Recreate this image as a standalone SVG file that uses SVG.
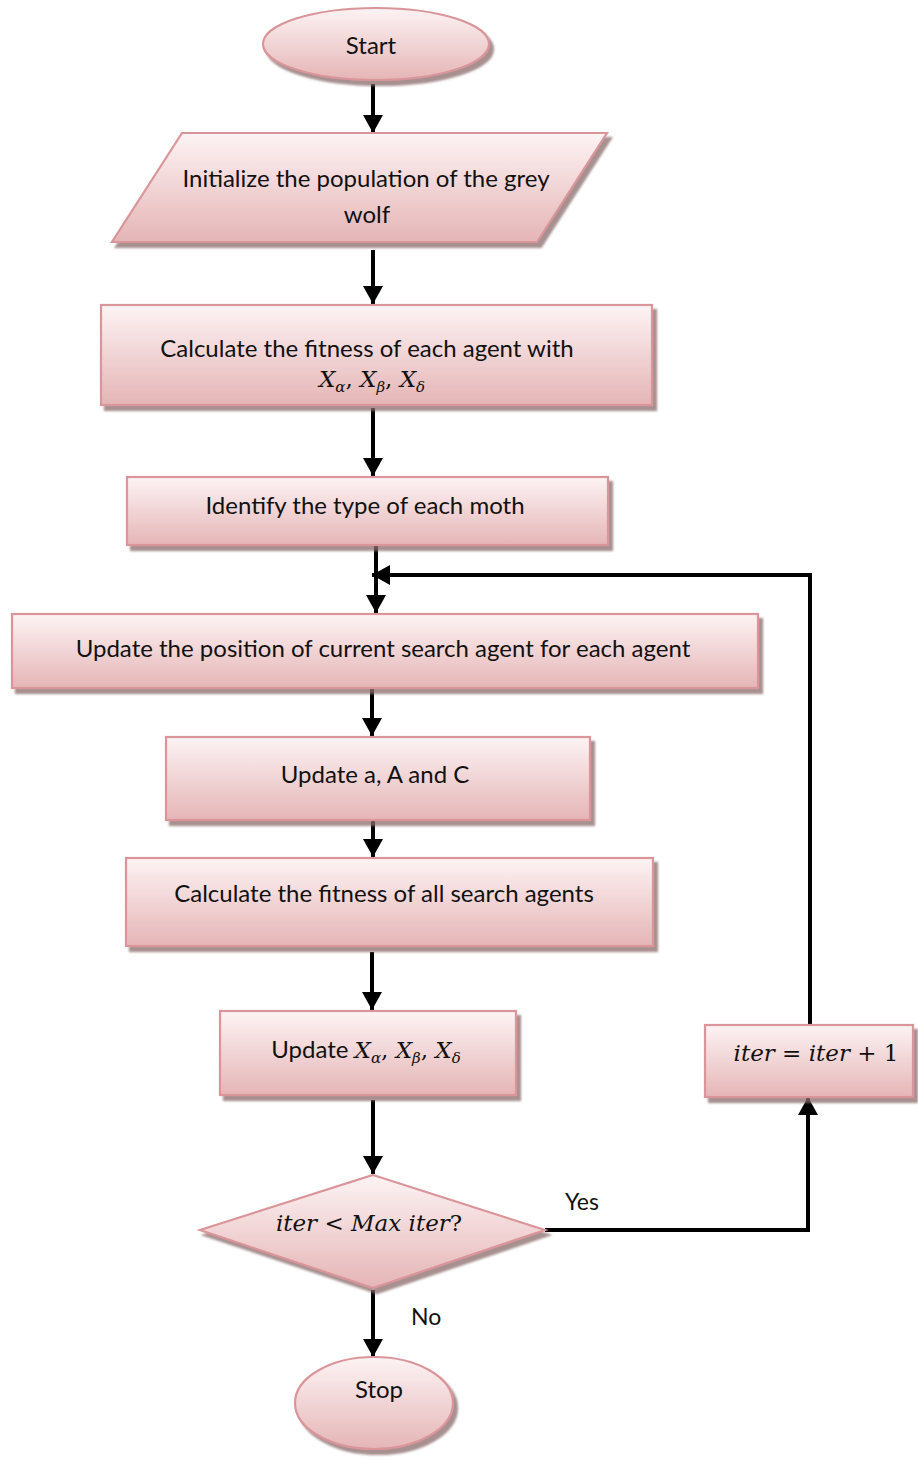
<svg xmlns="http://www.w3.org/2000/svg" width="918" height="1460" viewBox="0 0 918 1460">
<style>
.node{fill:url(#pk);stroke:#d9959a;stroke-width:2.2;filter:url(#sh)}
.t{font-family:Lato,"Open Sans",sans-serif;font-size:24px;fill:#111;text-anchor:middle}
.m{font-family:"DejaVu Serif","Liberation Serif",serif;font-size:23px;fill:#111}
.i{font-style:italic}
.s{font-size:15px;font-style:italic}
.c{fill:none;stroke:#000;stroke-width:4;marker-end:url(#ah)}
.lab{font-family:Lato,"Open Sans",sans-serif;font-size:23px;fill:#111}
</style>
<defs>
<linearGradient id="pk" x1="0" y1="0" x2="0" y2="1">
<stop offset="0" stop-color="#fdf3f4"/>
<stop offset="1" stop-color="#e5b5b6"/>
</linearGradient>
<filter id="sh" x="-10%" y="-10%" width="125%" height="130%">
<feDropShadow dx="4" dy="5" stdDeviation="1.3" flood-color="#8a6b6b" flood-opacity="0.75"/>
</filter>
<marker id="ah" markerUnits="userSpaceOnUse" markerWidth="20" markerHeight="20" refX="18" refY="10" orient="auto">
<path d="M0,0 L18,10 L0,20 z" fill="#000"/>
</marker>
</defs>

<g id="connectors">
<line class="c" x1="373" y1="84" x2="373" y2="133"/>
<line class="c" x1="373" y1="250" x2="373" y2="304"/>
<line class="c" x1="373" y1="408" x2="373" y2="476"/>
<line class="c" x1="376" y1="545" x2="376" y2="613"/>
<polyline class="c" points="810,1025 810,575 372,575"/>
<line class="c" x1="372" y1="688" x2="372" y2="736"/>
<line class="c" x1="373" y1="820" x2="373" y2="857"/>
<line class="c" x1="372" y1="952" x2="372" y2="1010"/>
<line class="c" x1="373" y1="1100" x2="373" y2="1174"/>
<polyline class="c" points="545,1230 808,1230 808,1097"/>
<line class="c" x1="373" y1="1290" x2="373" y2="1357"/>
<text class="lab" x="565" y="1210">Yes</text>
<text class="lab" x="411" y="1325">No</text>
</g>

<g id="start">
<ellipse class="node" cx="376" cy="44" rx="113" ry="36"/>
<text class="t" x="371" y="54">Start</text>
</g>

<g id="init">
<polygon class="node" points="182,133 607,133 537,242 112,242"/>
<text class="t" x="366" y="187">Initialize the population of the grey</text>
<text class="t" x="367" y="223">wolf</text>
</g>

<g id="calc1">
<rect class="node" x="101" y="305" width="551" height="100"/>
<text class="t" x="367" y="357">Calculate the fitness of each agent with</text>
<text class="m" x="372" y="387" text-anchor="middle"><tspan class="i">X</tspan><tspan class="s" dy="5">α</tspan><tspan dy="-5">, </tspan><tspan class="i">X</tspan><tspan class="s" dy="5">β</tspan><tspan dy="-5">, </tspan><tspan class="i">X</tspan><tspan class="s" dy="5">δ</tspan></text>
</g>

<g id="identify">
<rect class="node" x="127" y="477" width="481" height="68"/>
<text class="t" x="365" y="514">Identify the type of each moth</text>
</g>

<g id="updpos">
<rect class="node" x="12" y="614" width="746" height="74"/>
<text class="t" x="383" y="657">Update the position of current search agent for each agent</text>
</g>

<g id="updaAC">
<rect class="node" x="166" y="737" width="424" height="83"/>
<text class="t" x="375" y="783">Update a, A and C</text>
</g>

<g id="calc2">
<rect class="node" x="126" y="858" width="527" height="88"/>
<text class="t" x="384" y="902">Calculate the fitness of all search agents</text>
</g>

<g id="updX">
<rect class="node" x="220" y="1011" width="296" height="84"/>
<text class="t" x="366" y="1058"><tspan>Update </tspan><tspan class="m i">X</tspan><tspan class="m s" dy="5">α</tspan><tspan class="m" dy="-5">, </tspan><tspan class="m i">X</tspan><tspan class="m s" dy="5">β</tspan><tspan class="m" dy="-5">, </tspan><tspan class="m i">X</tspan><tspan class="m s" dy="5">δ</tspan></text>
</g>

<g id="decision">
<polygon class="node" points="373,1175 545,1230 373,1288 200,1230"/>
<text class="m" x="369" y="1231" text-anchor="middle"><tspan class="i">iter</tspan> &lt; <tspan class="i">Max iter</tspan>?</text>
</g>

<g id="iterinc">
<rect class="node" x="705" y="1025" width="208" height="72"/>
<text class="m" x="816" y="1061" text-anchor="middle"><tspan class="i">iter</tspan> = <tspan class="i">iter</tspan> + 1</text>
</g>

<g id="stop">
<ellipse class="node" cx="374" cy="1403" rx="79" ry="46"/>
<text class="t" x="379" y="1398">Stop</text>
</g>
</svg>
